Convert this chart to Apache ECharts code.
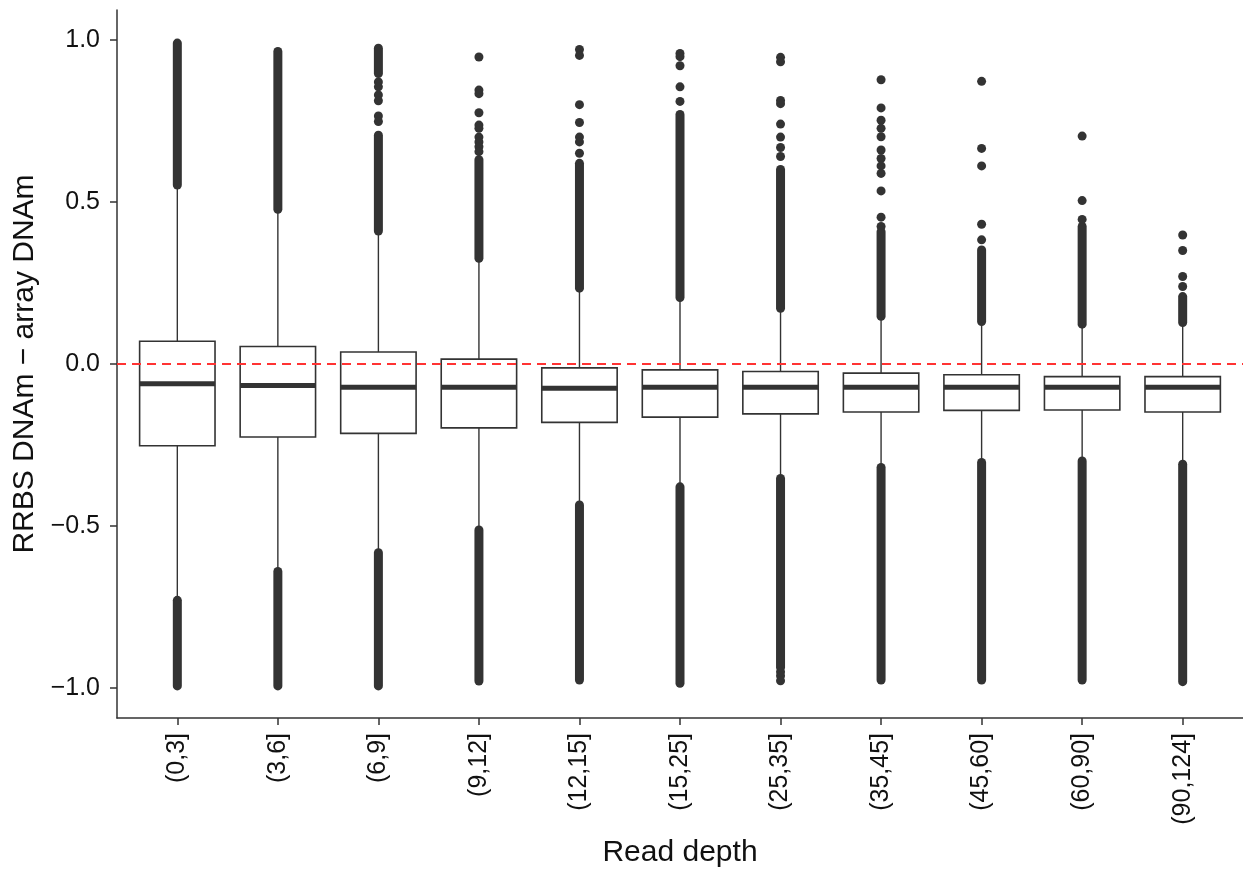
<!DOCTYPE html>
<html>
<head>
    <meta charset="UTF-8">
    <title>RRBS vs array DNAm by read depth</title>
    <script src="https://cdn.jsdelivr.net/npm/echarts@6.0.0/dist/echarts.min.js"></script>
    <style>
        html, body { margin: 0; padding: 0; background: #fff; }
        #chart { width: 1243px; height: 873px; }
    </style>
</head>
<body>
    <div id="chart"></div>
    <script>
        // read depth bins
        const categories = ['(0,3]', '(3,6]', '(6,9]', '(9,12]', '(12,15]', '(15,25]',
            '(25,35]', '(35,45]', '(45,60]', '(60,90]', '(90,124]'];

        // box statistics
        const whiskerLow = [-0.725, -0.636, -0.578, -0.508, -0.431, -0.375, -0.349, -0.315, -0.300, -0.295, -0.305];
        const q1 = [-0.252, -0.225, -0.214, -0.197, -0.180, -0.164, -0.154, -0.148, -0.143, -0.142, -0.148];
        const medians = [-0.061, -0.066, -0.072, -0.072, -0.075, -0.072, -0.072, -0.072, -0.072, -0.072, -0.072];
        const q3 = [0.070, 0.054, 0.037, 0.015, -0.012, -0.018, -0.023, -0.028, -0.033, -0.039, -0.039];
        const whiskerHigh = [0.548, 0.473, 0.406, 0.322, 0.230, 0.201, 0.168, 0.143, 0.127, 0.119, 0.124];

        // stretches where outliers overlap into a solid column: [bin index, from, to]
        const denseRuns = [
            [0, 0.552, 0.990], [0, -0.993, -0.729],
            [1, 0.477, 0.964], [1, -0.993, -0.640],
            [2, 0.410, 0.706], [2, 0.896, 0.974], [2, -0.993, -0.582],
            [3, 0.326, 0.630], [3, -0.978, -0.512],
            [4, 0.234, 0.619], [4, -0.975, -0.435],
            [5, 0.205, 0.770], [5, -0.985, -0.379],
            [6, 0.172, 0.600], [6, -0.936, -0.353],
            [7, 0.147, 0.408], [7, -0.975, -0.319],
            [8, 0.131, 0.352], [8, -0.975, -0.304],
            [9, 0.123, 0.424], [9, -0.975, -0.299],
            [10, 0.128, 0.208], [10, -0.980, -0.309]
        ];

        // single outliers: [bin index, value]
        const sparseOutliers = [
            [2, 0.870], [2, 0.855], [2, 0.830], [2, 0.812], [2, 0.765], [2, 0.748],
            [3, 0.947], [3, 0.845], [3, 0.834], [3, 0.775], [3, 0.737], [3, 0.727], [3, 0.700], [3, 0.685], [3, 0.670], [3, 0.655],
            [4, 0.970], [4, 0.952], [4, 0.800], [4, 0.745], [4, 0.700], [4, 0.685], [4, 0.650],
            [5, 0.958], [5, 0.948], [5, 0.920], [5, 0.855], [5, 0.810],
            [6, 0.946], [6, 0.932], [6, 0.813], [6, 0.803], [6, 0.740], [6, 0.700], [6, 0.668], [6, 0.640],
            [6, -0.950], [6, -0.962], [6, -0.977],
            [7, 0.877], [7, 0.790], [7, 0.752], [7, 0.727], [7, 0.701], [7, 0.660], [7, 0.634], [7, 0.611], [7, 0.588], [7, 0.534], [7, 0.453], [7, 0.424],
            [8, 0.872], [8, 0.665], [8, 0.611], [8, 0.431], [8, 0.383],
            [9, 0.703], [9, 0.504], [9, 0.446],
            [10, 0.398], [10, 0.350], [10, 0.270], [10, 0.239]
        ];

        const yTicks = [-1, -0.5, 0, 0.5, 1];
        const xTicks = categories.map((c, i) => i + 1);

        const ink = '#333333';
        const font = "'Liberation Sans', Arial, sans-serif";

        const boxData = categories.map((c, i) => [i + 1, whiskerLow[i], q1[i], medians[i], q3[i], whiskerHigh[i]]);
        const runData = denseRuns.map(r => [r[0] + 1, r[1], r[2]]);
        const pointData = sparseOutliers.map(p => [p[0] + 1, p[1]]);

        const chart = echarts.init(document.getElementById('chart'), null, { renderer: 'canvas' });

        const option = {
            animation: false,
            backgroundColor: '#ffffff',
            grid: { left: 117, right: 0, top: 10, bottom: 154 },
            xAxis: {
                type: 'value',
                min: 0.4,
                max: 11.6,
                name: 'Read depth',
                nameLocation: 'middle',
                nameGap: 120,
                nameTextStyle: { fontFamily: font, fontSize: 30, color: '#111' },
                axisLine: { onZero: false, lineStyle: { color: ink, width: 1.5 } },
                axisTick: { customValues: xTicks, length: 7, lineStyle: { color: ink, width: 1.5 } },
                axisLabel: {
                    customValues: xTicks,
                    rotate: 90,
                    margin: 15,
                    fontFamily: font,
                    fontSize: 25,
                    color: '#111',
                    formatter: v => categories[Math.round(v) - 1]
                },
                splitLine: { show: false }
            },
            yAxis: {
                type: 'value',
                min: -1.092,
                max: 1.092,
                name: 'RRBS DNAm \u2212 array DNAm',
                nameLocation: 'middle',
                nameGap: 77,
                nameTextStyle: { fontFamily: font, fontSize: 30, color: '#111' },
                axisLine: { lineStyle: { color: ink, width: 1.5 } },
                axisTick: { customValues: yTicks, length: 7, lineStyle: { color: ink, width: 1.5 } },
                axisLabel: {
                    customValues: yTicks,
                    margin: 17,
                    fontFamily: font,
                    fontSize: 25,
                    color: '#111',
                    formatter: v => v.toFixed(1).replace('-', '\u2212')
                },
                splitLine: { show: false }
            },
            series: [
                {
                    name: 'outlier columns',
                    type: 'custom',
                    data: runData,
                    renderItem: function (params, api) {
                        const a = api.coord([api.value(0), api.value(1)]);
                        const b = api.coord([api.value(0), api.value(2)]);
                        return {
                            type: 'line',
                            shape: { x1: a[0], y1: a[1], x2: b[0], y2: b[1] },
                            style: { stroke: ink, lineWidth: 9, lineCap: 'round' }
                        };
                    }
                },
                {
                    name: 'outliers',
                    type: 'scatter',
                    data: pointData,
                    symbol: 'circle',
                    symbolSize: 9,
                    itemStyle: { color: ink, opacity: 1 }
                },
                {
                    name: 'boxes',
                    type: 'custom',
                    data: boxData,
                    renderItem: function (params, api) {
                        const x = api.value(0);
                        const lo = api.coord([x, api.value(1)]);
                        const bq1 = api.coord([x, api.value(2)]);
                        const med = api.coord([x, api.value(3)]);
                        const bq3 = api.coord([x, api.value(4)]);
                        const hi = api.coord([x, api.value(5)]);
                        const w = api.size([0.75, 0])[0];
                        const left = lo[0] - w / 2;
                        return {
                            type: 'group',
                            children: [
                                { type: 'line', shape: { x1: lo[0], y1: lo[1], x2: bq1[0], y2: bq1[1] },
                                  style: { stroke: ink, lineWidth: 1.4 } },
                                { type: 'line', shape: { x1: bq3[0], y1: bq3[1], x2: hi[0], y2: hi[1] },
                                  style: { stroke: ink, lineWidth: 1.4 } },
                                { type: 'rect', shape: { x: left, y: bq3[1], width: w, height: bq1[1] - bq3[1] },
                                  style: { fill: '#ffffff', stroke: ink, lineWidth: 1.6 } },
                                { type: 'line', shape: { x1: left, y1: med[1], x2: left + w, y2: med[1] },
                                  style: { stroke: ink, lineWidth: 5 } }
                            ]
                        };
                    }
                },
                {
                    name: 'zero',
                    type: 'line',
                    z: 10,
                    data: [[0.4, 0], [11.6, 0]],
                    symbol: 'none',
                    silent: true,
                    lineStyle: { color: '#ff3333', width: 2, type: [9, 6] }
                }
            ]
        };

        chart.setOption(option);
    </script>
</body>
</html>
